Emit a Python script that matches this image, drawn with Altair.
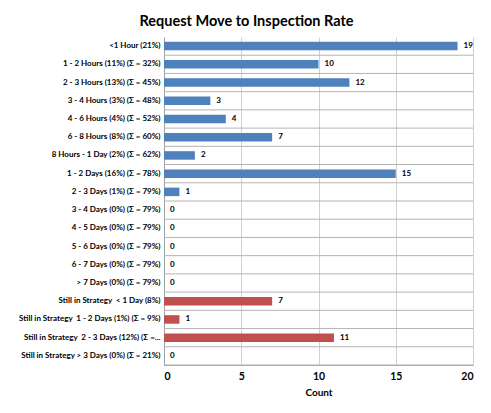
import altair as alt
import pandas as pd

categories = [
    "<1 Hour (21%)",
    "1 - 2 Hours (11%) (Σ = 32%)",
    "2 - 3 Hours (13%) (Σ = 45%)",
    "3 - 4 Hours (3%) (Σ = 48%)",
    "4 - 6 Hours (4%) (Σ = 52%)",
    "6 - 8 Hours (8%) (Σ = 60%)",
    "8 Hours - 1 Day (2%) (Σ = 62%)",
    "1 - 2 Days (16%) (Σ = 78%)",
    "2 - 3 Days (1%) (Σ = 79%)",
    "3 - 4 Days (0%) (Σ = 79%)",
    "4 - 5 Days (0%) (Σ = 79%)",
    "5 - 6 Days (0%) (Σ = 79%)",
    "6 - 7 Days (0%) (Σ = 79%)",
    "> 7 Days (0%) (Σ = 79%)",
    "Still in Strategy \u00a0< 1 Day (8%)",
    "Still in Strategy \u00a01 - 2 Days (1%) (Σ = 9%)",
    "Still in Strategy \u00a02 - 3 Days (12%) (Σ =...",
    "Still in Strategy > 3 Days (0%) (Σ = 21%)",
]
counts = [19, 10, 12, 3, 4, 7, 2, 15, 1, 0, 0, 0, 0, 0, 7, 1, 11, 0]
groups = ["Moved"] * 14 + ["Still in Strategy"] * 4

df = pd.DataFrame({"category": categories, "count": counts, "group": groups})

FONT = "Lato"
GRID = "#d0d0d0"
SEP = "#b4b4b4"

y_axis = alt.Axis(
    labelFont=FONT, labelFontSize=8, labelFontWeight="bold", labelColor="#000000",
    labelLimit=400, labelPadding=4, ticks=False,
    domainColor="#a0a0a0", grid=False,
)
y_scale = alt.Scale(paddingInner=0, paddingOuter=0)
y_enc = alt.Y("category:N", sort=categories, title=None, scale=y_scale, axis=y_axis)

x_axis = alt.Axis(
    values=[0, 5, 10, 15, 20], labelFont=FONT, labelFontSize=10.5, labelFontWeight="bold",
    labelColor="#000000", titleFont=FONT, titleFontSize=10, titleFontWeight="bold",
    titleColor="#000000", titlePadding=6, labelPadding=6, ticks=False,
    domainColor="#a0a0a0", grid=True, gridColor=GRID,
)
x_scale = alt.Scale(domain=[0, 20], nice=False)
x_enc = alt.X("count:Q", title="Count", scale=x_scale, axis=x_axis)

# horizontal separators at the lower edge of each category band
separators = alt.Chart(df).mark_rule(color=SEP, strokeWidth=1).encode(
    y=alt.Y("category:N", sort=categories, bandPosition=1),
    x=alt.datum(0),
    x2=alt.datum(20),
)

bars = alt.Chart(df).mark_bar(size=8.5).encode(
    y=y_enc,
    x=x_enc,
    color=alt.Color("group:N", scale=alt.Scale(domain=["Moved", "Still in Strategy"], range=["#4F81BD", "#C0504D"]), legend=None),
)

labels = alt.Chart(df).mark_text(align="left", dx=6, font=FONT, fontSize=8, fontWeight="bold", color="#000000").encode(
    y=y_enc,
    x=x_enc,
    text="count:Q",
)

chart = (bars + separators + labels).properties(
    width=309,
    height=328,
    padding={"left": 156, "top": 29, "right": 10, "bottom": 40},
    autosize=alt.AutoSizeParams(type="none"),
    title=alt.TitleParams(
        "Request Move to Inspection Rate", font=FONT, fontSize=14.5, fontWeight="bold",
        color="#000000", anchor="middle", dx=-72, offset=8,
    ),
).configure_view(stroke=None)

chart.save("out.html", embed_options={"renderer": "svg", "actions": False})
